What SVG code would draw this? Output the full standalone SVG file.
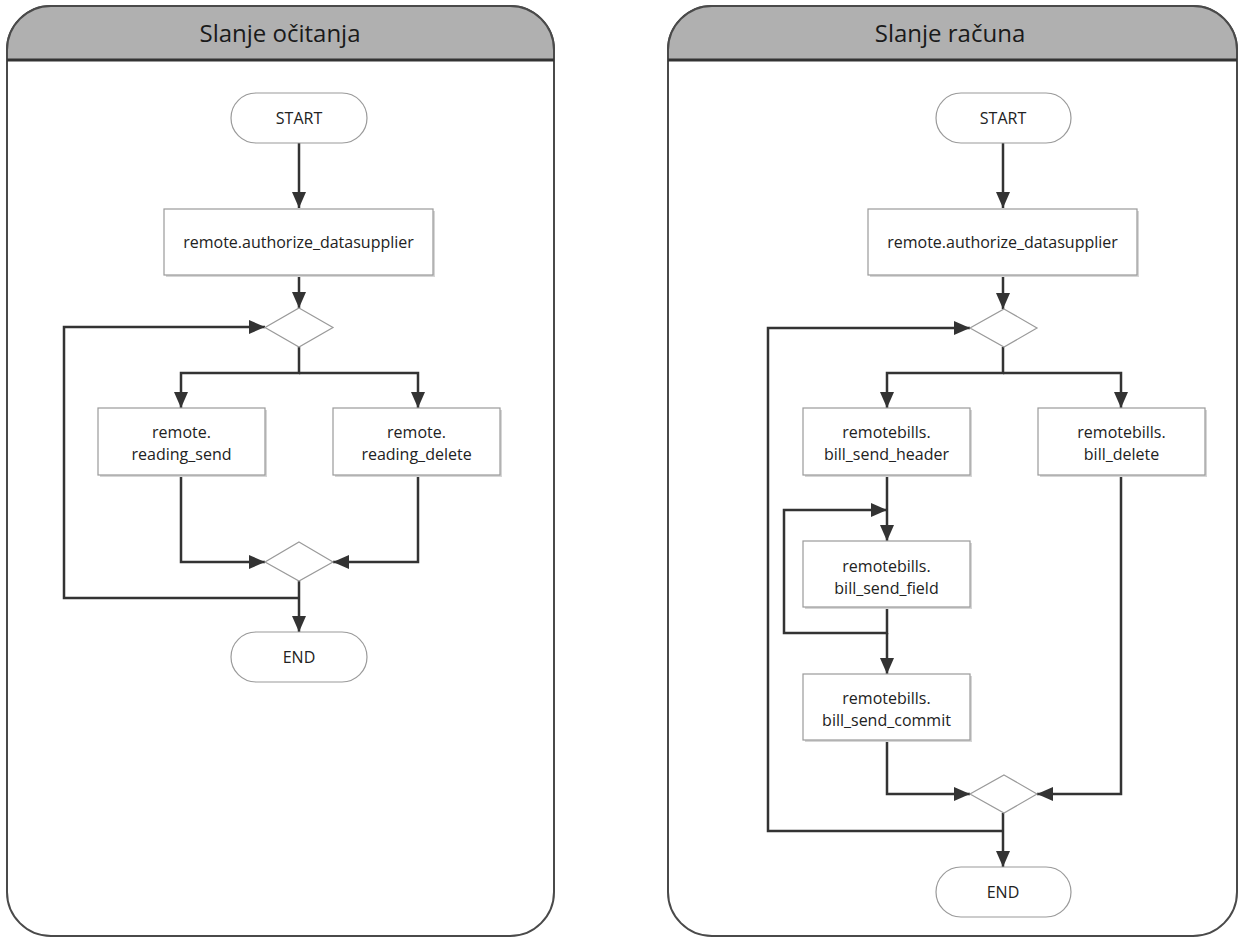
<svg xmlns="http://www.w3.org/2000/svg" width="1239" height="937" viewBox="0 0 1239 937">
  <style>
    .panel { fill: #ffffff; stroke: #4a4a4a; stroke-width: 2; }
    .header { fill: #b0b0b0; stroke: #4a4a4a; stroke-width: 2; }
    .htext { font-family: "Open Sans", "Liberation Sans", sans-serif; font-size: 24px; fill: #1a1a1a; text-anchor: middle; }
    .box { fill: #ffffff; stroke: #9a9a9a; stroke-width: 1.2; }
    .shadow { fill: #d6d6d6; }
    .dia { fill: #ffffff; stroke: #9a9a9a; stroke-width: 1.2; }
    .t { font-family: "Open Sans", "Liberation Sans", sans-serif; font-size: 16px; fill: #222222; text-anchor: middle; }
    .conn { fill: none; stroke: #333333; stroke-width: 2.5; marker-end: url(#arr); }
  </style>
  <defs>
    <marker id="arr" markerUnits="userSpaceOnUse" markerWidth="18" markerHeight="18" viewBox="0 0 18 18" refX="17" refY="9" orient="auto">
      <path d="M1,2 L17,9 L1,16 Z" fill="#333333"/>
    </marker>
  </defs>

  <!-- Left panel -->
  <g id="panel-left">
    <path class="panel" d="M7,50 A44,44 0 0 1 51,6 H510 A44,44 0 0 1 554,50 V892 A44,44 0 0 1 510,936 H51 A44,44 0 0 1 7,892 Z"/>
    <path class="header" d="M7,60 V50 A44,44 0 0 1 51,6 H510 A44,44 0 0 1 554,50 V60 Z"/>
    <line x1="7" y1="60" x2="554" y2="60" stroke="#333" stroke-width="3"/>
    <text class="htext" x="280" y="42">Slanje očitanja</text>
  </g>

  <!-- Right panel -->
  <g id="panel-right">
    <path class="panel" d="M668,50 A44,44 0 0 1 712,6 H1193 A44,44 0 0 1 1237,50 V892 A44,44 0 0 1 1193,936 H712 A44,44 0 0 1 668,892 Z"/>
    <path class="header" d="M668,60 V50 A44,44 0 0 1 712,6 H1193 A44,44 0 0 1 1237,50 V60 Z"/>
    <line x1="668" y1="60" x2="1237" y2="60" stroke="#333" stroke-width="3"/>
    <text class="htext" x="950" y="42">Slanje računa</text>
  </g>

  <!-- Connectors -->
  <g id="connectors">
    <!-- left -->
    <path class="conn" d="M299,143 V208"/>
    <path class="conn" d="M299,275 V308"/>
    <path class="conn" d="M299,347 V373 H181 V408"/>
    <path class="conn" d="M299,373 H418 V408"/>
    <path class="conn" d="M181,475 V562 H265"/>
    <path class="conn" d="M418,475 V562 H333"/>
    <path class="conn" d="M299,581 V632"/>
    <path class="conn" d="M299,598 H64 V327 H265"/>
    <!-- right -->
    <path class="conn" d="M1003,143 V208"/>
    <path class="conn" d="M1003,275 V309"/>
    <path class="conn" d="M1003,347 V373 H887 V408"/>
    <path class="conn" d="M1003,373 H1121 V408"/>
    <path class="conn" d="M887,475 V541"/>
    <path class="conn" d="M887,607 V633 H784 V510 H887"/>
    <path class="conn" d="M887,633 V674"/>
    <path class="conn" d="M887,740 V794 H970"/>
    <path class="conn" d="M1121,475 V794 H1037"/>
    <path class="conn" d="M1003,813 V867"/>
    <path class="conn" d="M1003,831 H768 V328 H970"/>
  </g>

  <!-- Left nodes -->
  <g id="l-start">
    <rect class="box" x="231" y="93" width="136" height="50" rx="25"/>
    <text class="t" x="299" y="124">START</text>
  </g>
  <g id="l-auth">
    <rect class="shadow" x="166" y="211" width="269" height="66"/>
    <rect class="box" x="164" y="209" width="269" height="66"/>
    <text class="t" x="298.5" y="248">remote.authorize_datasupplier</text>
  </g>
  <g id="l-dec1">
    <polygon class="dia" points="299,308 333,327.5 299,347 265,327.5"/>
  </g>
  <g id="l-send">
    <rect class="shadow" x="100" y="410" width="167" height="67"/>
    <rect class="box" x="98" y="408" width="167" height="67"/>
    <text class="t" x="181.5" y="438">remote.</text>
    <text class="t" x="181.5" y="460">reading_send</text>
  </g>
  <g id="l-delete">
    <rect class="shadow" x="335" y="410" width="167" height="67"/>
    <rect class="box" x="333" y="408" width="167" height="67"/>
    <text class="t" x="416.5" y="438">remote.</text>
    <text class="t" x="416.5" y="460">reading_delete</text>
  </g>
  <g id="l-dec2">
    <polygon class="dia" points="299,542 333,562 299,581 265,562"/>
  </g>
  <g id="l-end">
    <rect class="box" x="231" y="632" width="136" height="50" rx="25"/>
    <text class="t" x="299" y="663">END</text>
  </g>

  <!-- Right nodes -->
  <g id="r-start">
    <rect class="box" x="936" y="93" width="135" height="50" rx="25"/>
    <text class="t" x="1003" y="124">START</text>
  </g>
  <g id="r-auth">
    <rect class="shadow" x="870" y="211" width="269" height="66"/>
    <rect class="box" x="868" y="209" width="269" height="66"/>
    <text class="t" x="1002.5" y="248">remote.authorize_datasupplier</text>
  </g>
  <g id="r-dec1">
    <polygon class="dia" points="1004,309 1037,328 1004,347 970,328"/>
  </g>
  <g id="r-header">
    <rect class="shadow" x="805" y="410" width="167" height="67"/>
    <rect class="box" x="803" y="408" width="167" height="67"/>
    <text class="t" x="886.5" y="438">remotebills.</text>
    <text class="t" x="886.5" y="460">bill_send_header</text>
  </g>
  <g id="r-delete">
    <rect class="shadow" x="1040" y="410" width="167" height="67"/>
    <rect class="box" x="1038" y="408" width="167" height="67"/>
    <text class="t" x="1121.5" y="438">remotebills.</text>
    <text class="t" x="1121.5" y="460">bill_delete</text>
  </g>
  <g id="r-field">
    <rect class="shadow" x="805" y="543" width="167" height="66"/>
    <rect class="box" x="803" y="541" width="167" height="66"/>
    <text class="t" x="886.5" y="572">remotebills.</text>
    <text class="t" x="886.5" y="594">bill_send_field</text>
  </g>
  <g id="r-commit">
    <rect class="shadow" x="805" y="676" width="167" height="66"/>
    <rect class="box" x="803" y="674" width="167" height="66"/>
    <text class="t" x="886.5" y="704">remotebills.</text>
    <text class="t" x="886.5" y="726">bill_send_commit</text>
  </g>
  <g id="r-dec2">
    <polygon class="dia" points="1004,775 1037,794 1004,813 970,794"/>
  </g>
  <g id="r-end">
    <rect class="box" x="936" y="867" width="135" height="50" rx="25"/>
    <text class="t" x="1003" y="898">END</text>
  </g>
</svg>
